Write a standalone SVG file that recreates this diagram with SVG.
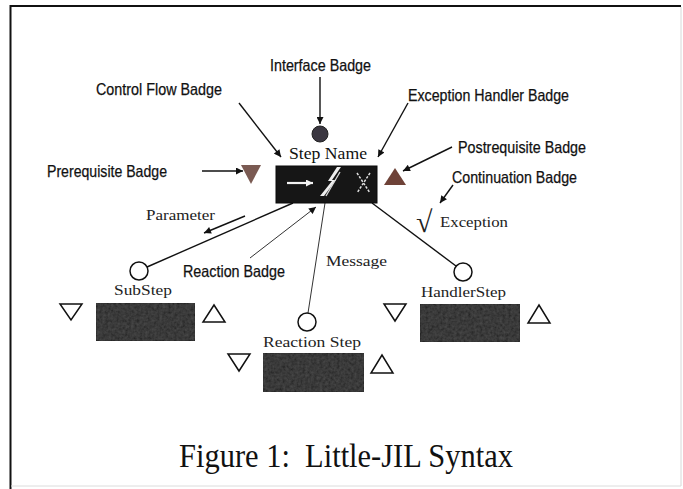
<svg xmlns="http://www.w3.org/2000/svg" width="683" height="489" viewBox="0 0 683 489">
  <defs>
    <marker id="arrow" viewBox="0 0 10 10" refX="10" refY="5" markerWidth="9" markerHeight="7" markerUnits="userSpaceOnUse" orient="auto">
      <path d="M0,0 L10,5 L0,10 z" fill="#111"/>
    </marker>
    <marker id="arrowWhite" viewBox="0 0 10 10" refX="10" refY="5" markerWidth="8" markerHeight="7" markerUnits="userSpaceOnUse" orient="auto">
      <path d="M0,0 L10,5 L0,10 z" fill="#f2f2f2"/>
    </marker>
    <filter id="grain" x="0" y="0" width="1" height="1">
      <feTurbulence type="fractalNoise" baseFrequency="0.35" numOctaves="2" seed="4" result="n"/>
      <feColorMatrix in="n" type="matrix" values="0 0 0 0 0.2  0 0 0 0 0.2  0 0 0 0 0.2  0 0 0 0.3 0" result="m"/>
      <feComposite in="m" in2="SourceGraphic" operator="in" result="c"/>
      <feMerge><feMergeNode in="SourceGraphic"/><feMergeNode in="c"/></feMerge>
    </filter>
  </defs>
  <style>
    .sans { font-family: "Liberation Sans", Arial, sans-serif; font-size: 16.5px; fill: #111; stroke: #111; stroke-width: 0.25; }
    .serif { font-family: "Liberation Serif", "Times New Roman", serif; font-size: 15.5px; fill: #222; }
    .big { font-size: 17px; fill: #111; }
    .root { font-size: 30px; }
    .lead { stroke: #111; stroke-width: 1.4; fill: none; }
    .thin { stroke: #333; stroke-width: 1; fill: none; }
    .hollow { fill: #fff; stroke: #111; stroke-width: 1.5; stroke-linejoin: miter; }
    .step { fill: #242424; stroke: #0c0c0c; stroke-width: 1.5; }
    .caption { font-family: "Liberation Serif", "Times New Roman", serif; font-size: 33px; fill: #111; white-space: pre; }
  </style>

  <!-- figure frame -->
  <g id="frame">
    <line x1="10.5" y1="6" x2="681" y2="6" stroke="#111" stroke-width="2"/>
    <line x1="10.5" y1="5" x2="10.5" y2="489" stroke="#111" stroke-width="2"/>
    <line x1="681" y1="7" x2="681" y2="486" stroke="#d8d8d8" stroke-width="1"/>
    <line x1="11" y1="486" x2="681" y2="486" stroke="#dcdcdc" stroke-width="1"/>
  </g>

  <!-- connectors and label leaders -->
  <g id="connectors">
    <line class="lead" x1="320" y1="77" x2="320" y2="124" marker-end="url(#arrow)"/>
    <line class="lead" x1="239" y1="103" x2="281" y2="157" marker-end="url(#arrow)"/>
    <line class="lead" x1="408" y1="103" x2="378" y2="157" marker-end="url(#arrow)"/>
    <line class="lead" x1="202" y1="171" x2="243" y2="171" marker-end="url(#arrow)"/>
    <line class="lead" x1="452" y1="147" x2="403" y2="171" marker-end="url(#arrow)"/>
    <line class="lead" x1="453" y1="185" x2="440" y2="203" marker-end="url(#arrow)"/>
    <line class="lead" x1="245" y1="216" x2="204" y2="233" marker-end="url(#arrow)"/>
    <line class="thin" x1="250" y1="258" x2="316" y2="207" marker-end="url(#arrow)"/>
    <!-- step to substep edges -->
    <line class="lead" x1="293" y1="203" x2="147" y2="267"/>
    <line class="thin" x1="325" y1="203" x2="308" y2="313"/>
    <line class="lead" x1="372" y1="203" x2="456" y2="266"/>
  </g>

  <!-- parent step -->
  <g id="step-name">
    <text class="serif big" x="289" y="159" textLength="78" lengthAdjust="spacingAndGlyphs">Step Name</text>
    <rect x="276" y="166" width="101" height="37" fill="#161616" stroke="#0a0a0a" stroke-width="1"/>
    <!-- control flow badge -->
    <line x1="287" y1="183" x2="313" y2="183" stroke="#f2f2f2" stroke-width="2.2" marker-end="url(#arrowWhite)"/>
    <!-- reaction badge (lightning) -->
    <path d="M337,167 L328,181 L332,181 L320,196 L324,196 L336,180 L332,180 L341,167 z" fill="#eeeeee"/>
    <line x1="326" y1="196" x2="340" y2="172" stroke="#d8d8d8" stroke-width="1.3"/>
    <!-- exception handler badge -->
    <g stroke="#e0e0e0" stroke-width="1.5" stroke-dasharray="2.5 1.5">
      <line x1="357" y1="173" x2="370" y2="193"/>
      <line x1="370" y1="173" x2="357" y2="193"/>
    </g>
  </g>

  <g id="interface-badge">
    <circle cx="320" cy="134" r="8" fill="#3a3640" stroke="#222" stroke-width="1"/>
  </g>
  <g id="prerequisite-badge">
    <polygon points="241,165 261,165 251,184" fill="#7a5a52"/>
  </g>
  <g id="postrequisite-badge">
    <polygon points="384,185 406,185 395,168" fill="#6e4238"/>
  </g>

  <!-- callout labels -->
  <g id="labels">
    <text class="sans" x="270" y="71" textLength="101" lengthAdjust="spacingAndGlyphs">Interface Badge</text>
    <text class="sans" x="96" y="95" textLength="126" lengthAdjust="spacingAndGlyphs">Control Flow Badge</text>
    <text class="sans" x="408" y="101" textLength="161" lengthAdjust="spacingAndGlyphs">Exception Handler Badge</text>
    <text class="sans" x="47" y="177" textLength="120" lengthAdjust="spacingAndGlyphs">Prerequisite Badge</text>
    <text class="sans" x="458" y="153" textLength="128" lengthAdjust="spacingAndGlyphs">Postrequisite Badge</text>
    <text class="sans" x="452" y="183" textLength="125" lengthAdjust="spacingAndGlyphs">Continuation Badge</text>
    <text class="sans" x="183" y="277" textLength="102" lengthAdjust="spacingAndGlyphs">Reaction Badge</text>
    <text class="serif" x="146" y="220" textLength="69" lengthAdjust="spacingAndGlyphs">Parameter</text>
    <text class="serif" x="326" y="266" textLength="61" lengthAdjust="spacingAndGlyphs">Message</text>
    <text class="serif root" x="416" y="232">√</text>
    <text class="serif" x="440" y="227" textLength="68" lengthAdjust="spacingAndGlyphs">Exception</text>
  </g>

  <!-- substep -->
  <g id="substep">
    <circle class="hollow" cx="139" cy="271" r="9"/>
    <text class="serif" x="114" y="295" textLength="58" lengthAdjust="spacingAndGlyphs">SubStep</text>
    <polygon class="hollow" points="60,304 82,304 71,320"/>
    <rect class="step" x="96" y="303" width="99" height="38" filter="url(#grain)"/>
    <polygon class="hollow" points="203,322 225,322 214,305"/>
  </g>

  <!-- reaction step -->
  <g id="reaction-step">
    <circle class="hollow" cx="307" cy="322" r="9"/>
    <text class="serif" x="263" y="347" textLength="98" lengthAdjust="spacingAndGlyphs">Reaction Step</text>
    <polygon class="hollow" points="228,354 250,354 239,371"/>
    <rect class="step" x="263" y="353" width="101" height="39" filter="url(#grain)"/>
    <polygon class="hollow" points="371,373 393,373 382,355"/>
  </g>

  <!-- handler step -->
  <g id="handler-step">
    <circle class="hollow" cx="463" cy="272" r="9"/>
    <text class="serif" x="421" y="297" textLength="85" lengthAdjust="spacingAndGlyphs">HandlerStep</text>
    <polygon class="hollow" points="384,304 406,304 395,321"/>
    <rect class="step" x="420" y="304" width="100" height="38" filter="url(#grain)"/>
    <polygon class="hollow" points="528,323 550,323 539,305"/>
  </g>

  <g id="caption">
    <text class="caption" x="179" y="467" textLength="334" lengthAdjust="spacingAndGlyphs">Figure 1:  Little-JIL Syntax</text>
  </g>
</svg>
